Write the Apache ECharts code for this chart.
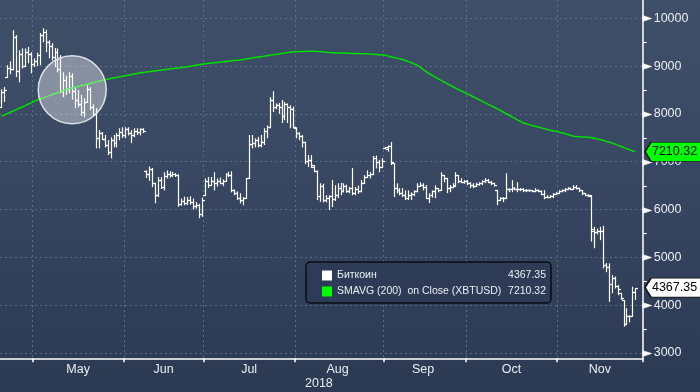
<!DOCTYPE html>
<html><head><meta charset="utf-8">
<script src="https://cdn.jsdelivr.net/npm/echarts@6/dist/echarts.min.js"></script>
<style>
html,body{margin:0;padding:0;}
#c{width:700px;height:392px;background:linear-gradient(180deg,#3f4f68 0%,#3b4a64 33%,#34425d 62%,#2c3953 100%);}
</style>
</head><body><div id="c"></div>
<script>
// ---- DATA ----
const monthNames = ['Apr','May','Jun','Jul','Aug','Sep','Oct','Nov'];
const yearLabel = '2018';
const seriesNames = ['Биткоин', 'SMAVG (200)  on Close (XBTUSD)'];
const yTickValues = [3000,4000,5000,6000,7000,8000,9000,10000];

// daily bars: [open, high, low, close]
const ohlcApr = [[8150,8515,8120,8450],[8450,8560,8250,8500],[8780,9020,8750,8960],[8960,9100,8830,8940],[8940,9750,8910,9600],[9600,9650,8770,8900],[8900,9330,8660,9250],[9250,9370,8950,9000],[9000,9370,8980,9300],[9300,9400,9060,9250],[9250,9290,8850,9050]];
const ohlcMay = [[9050,9160,8980,9100],[9100,9280,9000,9230],[9230,9690,9020,9650],[9650,9790,9500,9720],[9720,9760,9290,9500],[9500,9540,9160,9420],[9420,9480,9120,9200],[9200,9380,8980,9300],[9300,9370,8870,8950],[8950,9230,8430,8480],[8480,8870,8350,8700],[8700,8800,8400,8520],[8520,8870,8430,8800],[8800,8850,8300,8480],[8480,8540,8120,8300],[8300,8500,8140,8200],[8200,8400,7960,8050],[8050,8330,7930,8250],[8250,8600,8240,8520],[8520,8560,8080,8150],[8150,8200,7950,8000],[8000,8120,7280,7500],[7500,7660,7280,7600],[7600,7620,7450,7480],[7480,7560,7300,7350],[7350,7450,7140,7200],[7200,7510,7070,7450],[7450,7560,7300,7400],[7400,7600,7300,7550],[7550,7700,7450,7620],[7620,7720,7500,7550]];
const ohlcJun = [[7550,7720,7490,7680],[7680,7720,7550,7600],[7600,7660,7390,7550],[7550,7700,7510,7650],[7650,7700,7560,7620],[7620,7700,7550,7680],[7680,7700,7600,7640],[6800,6820,6660,6740],[6740,6900,6600,6850],[6850,6870,6470,6550],[6550,6560,6130,6300],[6300,6680,6260,6620],[6620,6680,6430,6480],[6480,6780,6400,6700],[6700,6820,6650,6750],[6750,6800,6670,6720],[6720,6790,6680,6740],[6740,6760,6680,6730],[6730,6740,6060,6120],[6120,6230,6080,6180],[6180,6270,6090,6130],[6130,6260,6100,6200],[6200,6280,6100,6150],[6150,6230,6000,6080],[6080,6160,6020,6100],[6100,6120,5820,5900],[5900,6250,5850,6200]];
const ohlcJul = [[6300,6650,6290,6600],[6600,6680,6450,6520],[6520,6680,6510,6600],[6600,6780,6400,6550],[6550,6650,6480,6600],[6600,6670,6530,6560],[6560,6630,6490,6600],[6600,6760,6580,6740],[6740,6790,6680,6720],[6720,6800,6360,6400],[6400,6420,6300,6350],[6350,6380,6200,6250],[6250,6340,6130,6200],[6200,6260,6090,6250],[6250,6660,6240,6650],[6650,7560,6640,7380],[7380,7560,7280,7400],[7400,7490,7300,7450],[7450,7520,7300,7350],[7350,7560,7300,7420],[7420,7700,7350,7650],[7650,7760,7490,7720],[7720,8350,7700,8300],[8300,8475,8040,8150],[8150,8220,8100,8180],[8180,8230,8000,8150],[8150,8290,7810,7950],[7950,8250,7870,8200],[8200,8220,7810,8150],[8150,8180,7700,8100],[8100,8150,7700,7730]];
const ohlcAug = [[7700,7720,7490,7600],[7600,7620,7450,7530],[7530,7560,7300,7410],[7410,7420,6950,7020],[7020,7140,6890,7030],[7030,7140,6870,6940],[6900,6930,6780,6800],[6800,6820,6200,6280],[6280,6550,6160,6500],[6500,6540,6150,6200],[6200,6300,6150,6250],[6250,6300,5990,6280],[6280,6620,6050,6220],[6220,6510,6180,6300],[6300,6550,6240,6450],[6450,6560,6300,6380],[6380,6550,6360,6500],[6500,6520,6350,6380],[6380,6470,6340,6450],[6450,6870,6300,6350],[6350,6470,6300,6420],[6420,6500,6330,6380],[6380,6615,6360,6560],[6560,6720,6550,6690],[6690,6820,6680,6720],[6720,6780,6650,6740],[6740,7120,6720,7080],[7080,7130,6860,6990],[6990,7040,6780,6900],[6900,7075,6890,7020]];
const ohlcSep = [[7280,7310,7270,7300],[7260,7340,7210,7330],[7330,7415,6930,6990],[6970,6970,6260,6450],[6450,6550,6340,6400],[6400,6450,6300,6350],[6350,6450,6260,6300],[6300,6400,6200,6250],[6250,6400,6200,6300],[6300,6360,6200,6320],[6320,6400,6280,6380],[6380,6550,6360,6500],[6500,6570,6470,6520],[6520,6550,6400,6480],[6480,6510,6240,6250],[6250,6340,6135,6300],[6300,6400,6250,6380],[6380,6510,6240,6450],[6450,6450,6360,6400],[6400,6780,6400,6720],[6720,6720,6570,6650],[6650,6660,6344,6450],[6450,6510,6364,6480],[6480,6552,6448,6500],[6520,6780,6510,6720],[6720,6720,6552,6600],[6600,6657,6552,6580],[6580,6620,6540,6600]];
const ohlcOct = [[6600,6615,6511,6550],[6550,6573,6448,6520],[6520,6552,6448,6500],[6500,6560,6480,6540],[6540,6573,6500,6560],[6560,6615,6511,6590],[6590,6657,6552,6620],[6620,6640,6552,6580],[6580,6600,6511,6550],[6550,6560,6480,6520],[6400,6410,6093,6200],[6200,6260,6197,6240],[6240,6260,6156,6250],[6250,6760,6240,6440],[6440,6448,6364,6420],[6420,6615,6364,6450],[6450,6469,6406,6430],[6430,6573,6364,6440],[6440,6448,6385,6420],[6420,6448,6364,6400],[6400,6427,6364,6410],[6410,6420,6370,6400],[6400,6406,6364,6390],[6390,6448,6364,6410],[6410,6420,6364,6390],[6390,6400,6300,6320],[6320,6406,6218,6260],[6260,6300,6239,6270],[6270,6302,6239,6280],[6280,6344,6239,6320],[6320,6364,6323,6350]];
const ohlcNov = [[6350,6406,6344,6390],[6390,6420,6360,6400],[6400,6448,6364,6430],[6430,6469,6406,6450],[6450,6460,6406,6440],[6440,6511,6406,6480],[6480,6511,6420,6450],[6450,6460,6364,6400],[6400,6406,6302,6340],[6340,6344,6281,6310],[6310,6320,6260,6290],[6300,6300,5330,5600],[5560,5640,5190,5540],[5540,5600,5480,5560],[5560,5640,5360,5560],[5560,5660,4770,4850],[4850,4880,4690,4800],[4800,4875,4070,4450],[4450,4630,4250,4560],[4560,4600,4350,4400],[4400,4421,4210,4330],[4250,4260,4110,4150],[4110,4110,3550,3600],[3600,3935,3585,3770],[3770,3790,3640,3770],[3770,4386,3770,4280],[4280,4360,4108,4367.35]];

// 200-day simple moving average, one value per bar
const smaApr = [7950,7978,8006,8034,8062,8090,8118,8146,8174,8202,8230];
const smaMay = [8260,8290,8312,8334,8356,8378,8400,8422,8444,8466,8488,8510,8526,8542,8558,8574,8590,8606,8622,8638,8654,8670,8685,8700,8713,8726,8739,8751,8763,8775,8787];
const smaJun = [8799,8811,8823,8835,8847,8860,8868,8876,8884,8892,8900,8908,8915,8923,8931,8939,8947,8955,8963,8970,8978,8985,8996,9007,9018,9029,9040];
const smaJul = [9047,9054,9061,9068,9075,9082,9089,9096,9103,9110,9117,9124,9130,9140,9150,9160,9170,9180,9190,9198,9205,9215,9225,9235,9245,9255,9265,9275,9285,9292,9300];
const smaAug = [9302,9304,9306,9308,9309,9310,9310,9308,9303,9298,9292,9286,9280,9278,9276,9274,9272,9270,9268,9266,9264,9262,9261,9260,9256,9252,9248,9244,9240,9235];
const smaSep = [9230,9214,9197,9180,9167,9153,9140,9118,9094,9070,9045,9020,8976,8932,8888,8845,8810,8775,8740,8705,8670,8638,8606,8574,8542,8510,8480,8450];
const smaOct = [8420,8390,8360,8329,8298,8268,8237,8206,8175,8145,8112,8078,8045,8011,7978,7944,7911,7877,7844,7810,7793,7776,7760,7743,7726,7710,7693,7677,7660,7648,7636];
const smaNov = [7625,7607,7589,7571,7553,7535,7530,7525,7520,7515,7510,7505,7492,7478,7465,7448,7430,7413,7395,7371,7347,7323,7299,7275,7253,7231,7210.32];

// annotation circle centre (bar index, price)
const highlightCircle = [24, 8506];
// empty bar slots after the last bar on the axis
const trailingSlots = 2;

// ---- BUILD ----
const ohlcByMonth = [ohlcApr,ohlcMay,ohlcJun,ohlcJul,ohlcAug,ohlcSep,ohlcOct,ohlcNov];
const smaByMonth = [smaApr,smaMay,smaJun,smaJul,smaAug,smaSep,smaOct,smaNov];
const categories = [];
const monthStarts = [];
ohlcByMonth.forEach((m, k) => {
  monthStarts.push(categories.length);
  m.forEach((_, d) => categories.push(monthNames[k] + ' ' + (d + 1)));
});
for (let i = 0; i < trailingSlots; i++) categories.push('');
const tickSet = new Set(monthStarts.slice(1));
const labelAt = {};
monthStarts.forEach((s, k) => {
  if (k === 0) return;
  const end = k + 1 < monthStarts.length ? monthStarts[k + 1] : categories.length;
  labelAt[s + Math.floor((end - s - 1) / 2)] = monthNames[k];
});
const ohlcData = [].concat(...ohlcByMonth).map((r, i) => [i, r[0], r[1], r[2], r[3]]);
const smaData = [].concat(...smaByMonth);
const lastIdx = ohlcData.length - 1;
const lastClose = ohlcData[lastIdx][4];
const lastSma = smaData[smaData.length - 1];

// y scale of the plotting grid extends slightly past the labelled ticks
const yMin = yTickValues[0], yMax = yTickValues[yTickValues.length - 1];
const pxTop = 18.3, pxBottom = 353, plotBottom = 358.3;
const perPx = (yMax - yMin) / (pxBottom - pxTop);
const fullMax = yMax + pxTop * perPx;
const fullMin = yMin - (plotBottom - pxBottom) * perPx;

const txt = '#e9edf3';
const font = '"Liberation Sans", Arial, sans-serif';
const gridLine = {show: true, lineStyle: {color: '#55708a', type: [2, 3], width: 1}};

function renderItem(params, api) {
  const i = api.value(0);
  const o = api.coord([i, api.value(1)]);
  const h = api.coord([i, api.value(2)]);
  const l = api.coord([i, api.value(3)]);
  const c = api.coord([i, api.value(4)]);
  const x = Math.round(o[0]) + 0.5;
  const t = 2.5;
  const st = {stroke: '#ffffff', lineWidth: 1.2};
  const yo = Math.round(o[1]) + 0.5, yc = Math.round(c[1]) + 0.5;
  return {type: 'group', children: [
    {type: 'line', shape: {x1: x, y1: Math.min(h[1], yo - 0.5), x2: x, y2: Math.max(l[1], yc + 0.5, yo + 0.5)}, style: st},
    {type: 'line', shape: {x1: x - t, y1: yo, x2: x, y2: yo}, style: st},
    {type: 'line', shape: {x1: x, y1: yc, x2: x + t, y2: yc}, style: st}
  ]};
}

const legendIcon = [
  {type: 'rect', id: 'lgBox', left: 312, top: 271, shape: {width: 6, height: 6}, style: {fill: 'none', stroke: '#8b95a5', lineWidth: 1}},
  {type: 'line', id: 'lgMinus', shape: {x1: 313.5, y1: 274, x2: 317, y2: 274}, style: {stroke: '#8b95a5', lineWidth: 1}},
  {type: 'polyline', id: 'lgTree', shape: {points: [[315, 277.5], [315, 287], [321, 287]]}, style: {stroke: '#8b95a5', lineWidth: 1, fill: 'none'}}
];

const tagPath = 'path://M0,9.5 L6,0 L57,0 L57,19 L6,19 Z';
const chart = echarts.init(document.getElementById('c'), null, {renderer: 'canvas'});
chart.setOption({
  animation: false,
  backgroundColor: 'transparent',
  textStyle: {fontFamily: font},
  title: {text: yearLabel, left: 305, top: 377, padding: 0,
    textStyle: {color: txt, fontSize: 12.5, fontWeight: 'normal', fontFamily: font}},
  grid: [
    {left: 0, right: 57.3, top: 0, bottom: 392 - plotBottom, containLabel: false, outerBoundsMode: 'none'},
    {left: 0, right: 57.3, top: pxTop, bottom: 392 - pxBottom, containLabel: false, outerBoundsMode: 'none'}
  ],
  xAxis: [
    {type: 'category', gridIndex: 0, data: categories, boundaryGap: true,
      axisLine: {show: true, onZero: false, lineStyle: {color: '#ffffff', width: 1.5}},
      axisTick: {show: true, length: 4, lineStyle: {color: '#ffffff', width: 1.5},
        interval: (idx) => tickSet.has(idx)},
      splitLine: Object.assign({interval: (idx) => tickSet.has(idx)}, gridLine),
      axisLabel: {show: true, margin: 5, color: txt, fontSize: 12.5, fontFamily: font,
        interval: (idx) => labelAt[idx] !== undefined,
        formatter: (v, idx) => labelAt[idx] || ''}
    },
    {type: 'value', gridIndex: 1, show: false, min: 0, max: 1}
  ],
  yAxis: [
    {type: 'value', gridIndex: 0, position: 'right', min: fullMin, max: fullMax,
      axisLine: {show: true, onZero: false, lineStyle: {color: '#ffffff', width: 1.5}},
      axisTick: {show: false}, axisLabel: {show: false}, splitLine: {show: false}},
    {type: 'value', gridIndex: 1, position: 'right', min: yMin, max: yMax, interval: 1000,
      axisLine: {show: false, onZero: false},
      axisTick: {show: false},
      splitLine: gridLine,
      axisLabel: {show: true, margin: 11, color: txt, fontSize: 12.5, align: 'left', fontFamily: font,
        formatter: (v) => String(v)}}
  ],
  legend: {
    orient: 'vertical', left: 306, top: 262, selectedMode: false,
    backgroundColor: '#2e3b56', borderColor: '#0a0d14', borderWidth: 1.5, borderRadius: 4,
    padding: [7, 5, 5, 16], itemWidth: 10, itemHeight: 10, itemGap: 3, icon: 'rect',
    data: [{name: seriesNames[0], itemStyle: {color: '#ffffff'}}, {name: seriesNames[1], itemStyle: {color: '#00ff00'}}],
    formatter: (name) => name === seriesNames[0]
      ? '{n|' + name + '}{v|' + lastClose.toFixed(2) + '}'
      : '{n|' + name + '}{v|' + lastSma.toFixed(2) + '}',
    textStyle: {color: txt, fontSize: 10.5, lineHeight: 13, fontFamily: font,
      rich: {n: {width: 170, fontSize: 10.5, color: txt, fontFamily: font},
             v: {width: 39, align: 'right', fontSize: 10.5, color: txt, fontFamily: font}}}
  },
  graphic: legendIcon,
  series: [
    {name: seriesNames[0], type: 'custom', xAxisIndex: 0, yAxisIndex: 0,
      renderItem: renderItem, data: ohlcData, encode: {x: 0, y: [1, 2, 3, 4]},
      itemStyle: {color: '#ffffff'}, z: 2, silent: true},
    {name: seriesNames[1], type: 'line', xAxisIndex: 0, yAxisIndex: 0, data: smaData,
      showSymbol: false, symbol: 'none', itemStyle: {color: '#00ff00'},
      lineStyle: {color: '#00e000', width: 1.5}, z: 3, silent: true,
      markPoint: {symbol: tagPath, symbolSize: [57, 19], silent: true, animation: false,
        data: [
          {coord: [lastIdx, lastSma], value: lastSma.toFixed(2), symbolOffset: [38.2, 0],
            itemStyle: {color: '#00ff00', borderColor: '#111', borderWidth: 1},
            label: {show: true, position: 'inside', offset: [1, 0], color: '#000', fontSize: 12.5, fontFamily: font, formatter: '{c}'}},
          {coord: [lastIdx, lastClose], value: lastClose.toFixed(2), symbolOffset: [38.2, 0],
            itemStyle: {color: '#ffffff', borderColor: '#111', borderWidth: 1},
            label: {show: true, position: 'inside', offset: [1, 0], color: '#000', fontSize: 12.5, fontFamily: font, formatter: '{c}'}}
        ]}},
    {name: 'circle', type: 'scatter', xAxisIndex: 0, yAxisIndex: 0,
      data: [highlightCircle], symbol: 'circle', symbolSize: 68, z: 5, silent: true,
      itemStyle: {color: 'rgba(255,255,255,0.38)', borderColor: 'rgba(235,237,242,0.9)', borderWidth: 1.5, opacity: 1}}
  ]
});

// y-axis tick markers placed through the axis scale (major at labelled values, minor halfway)
try {
  const axisX = chart.convertToPixel({xAxisIndex: 1}, 1);
  const marks = [];
  yTickValues.forEach((v, k) => {
    const y = Math.round(chart.convertToPixel({yAxisIndex: 1}, v)) + 0.5;
    marks.push({type: 'polygon', id: 'yMaj' + k, z: 1,
      shape: {points: [[axisX, y - 3], [axisX + 9, y], [axisX, y + 3]]},
      style: {fill: '#ffffff', stroke: '#ffffff', lineWidth: 0.5}});
    if (k + 1 < yTickValues.length) {
      const ym = Math.round(chart.convertToPixel({yAxisIndex: 1}, (v + yTickValues[k + 1]) / 2)) + 0.5;
      marks.push({type: 'line', id: 'yMin' + k, z: 1,
        shape: {x1: axisX, y1: ym, x2: axisX + 4, y2: ym},
        style: {stroke: '#ffffff', lineWidth: 1.2}});
    }
  });
  chart.setOption({graphic: legendIcon.concat(marks)});
} catch (e) { /* keep chart without extra markers */ }
</script>
</body></html>
